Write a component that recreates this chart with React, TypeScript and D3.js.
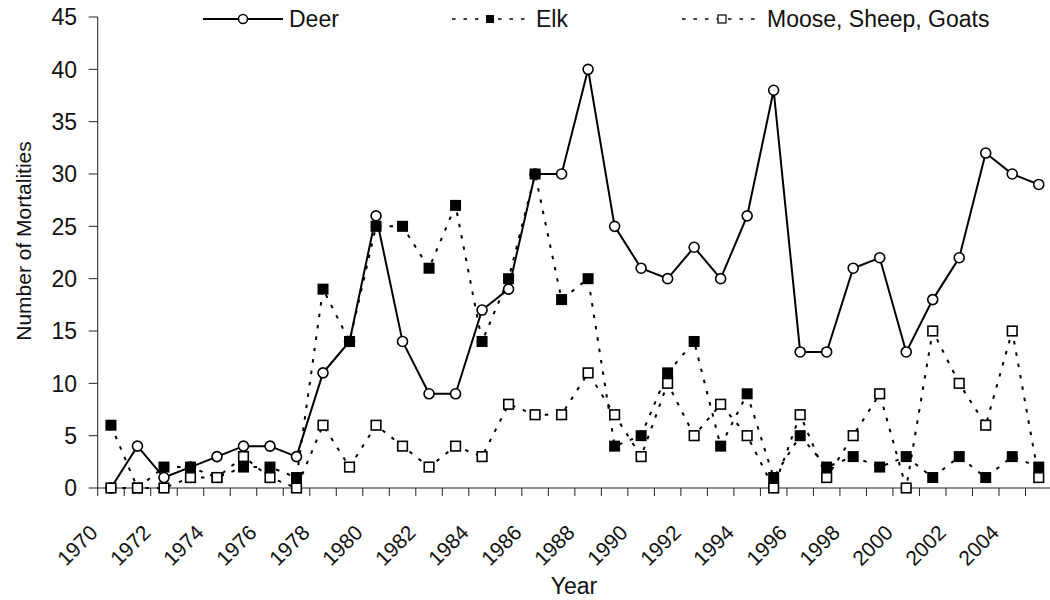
import * as d3 from "d3";

// years on the category axis
const years = [
  1970, 1971, 1972, 1973, 1974, 1975, 1976, 1977, 1978, 1979,
  1980, 1981, 1982, 1983, 1984, 1985, 1986, 1987, 1988, 1989,
  1990, 1991, 1992, 1993, 1994, 1995, 1996, 1997, 1998, 1999,
  2000, 2001, 2002, 2003, 2004, 2005,
];

const deer = [
  0, 4, 1, 2, 3, 4, 4, 3, 11, 14,
  26, 14, 9, 9, 17, 19, 30, 30, 40, 25,
  21, 20, 23, 20, 26, 38, 13, 13, 21, 22,
  13, 18, 22, 32, 30, 29,
];

const elk = [
  6, 0, 2, 2, 1, 2, 2, 1, 19, 14,
  25, 25, 21, 27, 14, 20, 30, 18, 20, 4,
  5, 11, 14, 4, 9, 1, 5, 2, 3, 2,
  3, 1, 3, 1, 3, 2,
];

const moose = [
  0, 0, 0, 1, 1, 3, 1, 0, 6, 2,
  6, 4, 2, 4, 3, 8, 7, 7, 11, 7,
  3, 10, 5, 8, 5, 0, 7, 1, 5, 9,
  0, 15, 10, 6, 15, 1,
];

const tickLabels = [
  "1970", "1972", "1974", "1976", "1978", "1980", "1982", "1984", "1986",
  "1988", "1990", "1992", "1994", "1996", "1998", "2000", "2002", "2004",
];

const yTicks = [0, 5, 10, 15, 20, 25, 30, 35, 40, 45];

const FONT = "'Liberation Sans', Arial, sans-serif";

const App = () => {
  const width = 1050;
  const height = 600;
  const left = 97.7;
  const right = 1052;
  const top = 17;
  const bottom = 488;

  const x = d3.scaleBand<number>().domain(years).range([left, right]).padding(0);
  const y = d3.scaleLinear().domain([0, 45]).range([bottom, top]);
  const cx = (i: number) => (x(years[i]) as number) + x.bandwidth() / 2;

  const line = d3
    .line<number>()
    .x((_, i) => cx(i))
    .y((d) => y(d));

  const dotted = { strokeDasharray: "3.5 8", strokeWidth: 2 };

  const boundaries = years.map((yr) => x(yr) as number).concat([right]);

  return (
    <svg
      width={width}
      height={height}
      style={{ position: "absolute", left: 0, top: 0, background: "white" }}
      fontFamily={FONT}
    >
      {/* y axis */}
      <line x1={left} x2={left} y1={top} y2={bottom} stroke="#222" strokeWidth={1} />
      {yTicks.map((t) => (
        <g key={t}>
          <line x1={left - 9} x2={left} y1={y(t)} y2={y(t)} stroke="#222" />
          <text x={77} y={y(t)} dy="0.36em" textAnchor="end" fontSize={23} fill="#111">
            {t}
          </text>
        </g>
      ))}
      <text
        transform={`translate(31, 241) rotate(-90)`}
        textAnchor="middle"
        fontSize={21}
        fill="#111"
      >
        Number of Mortalities
      </text>

      {/* x axis */}
      <line x1={left} x2={right} y1={bottom} y2={bottom} stroke="#222" />
      {boundaries.map((b, i) => (
        <line key={i} x1={b} x2={b} y1={bottom} y2={bottom + 8} stroke="#222" />
      ))}
      {tickLabels.map((lab) => {
        const i = years.indexOf(+lab);
        const ax = cx(i) - 12;
        const ay = bottom + 46;
        return (
          <text
            key={lab}
            transform={`translate(${ax}, ${ay}) rotate(-45)`}
            textAnchor="end"
            fontSize={21}
            fill="#111"
          >
            {lab}
          </text>
        );
      })}
      <text x={574} y={594} textAnchor="middle" fontSize={23} fill="#111">
        Year
      </text>

      {/* lines */}
      <path d={line(deer) ?? ""} fill="none" stroke="#000" strokeWidth={2} />
      <path d={line(elk) ?? ""} fill="none" stroke="#000" {...dotted} />
      <path d={line(moose) ?? ""} fill="none" stroke="#000" {...dotted} />

      {/* markers */}
      {deer.map((d, i) => (
        <circle key={"d" + i} cx={cx(i)} cy={y(d)} r={5} fill="white" stroke="#000" strokeWidth={1.6} />
      ))}
      {elk.map((d, i) => (
        <rect key={"e" + i} x={cx(i) - 5.5} y={y(d) - 5.5} width={11} height={11} fill="#000" />
      ))}
      {moose.map((d, i) => (
        <rect
          key={"m" + i}
          x={cx(i) - 4.8}
          y={y(d) - 4.8}
          width={9.6}
          height={9.6}
          fill="white"
          stroke="#000"
          strokeWidth={1.6}
        />
      ))}

      {/* legend */}
      <g fontSize={23} fill="#111">
        <line x1={203} x2={283} y1={19} y2={19} stroke="#000" strokeWidth={2} />
        <circle cx={243} cy={19} r={4.5} fill="white" stroke="#000" strokeWidth={1.5} />
        <text x={289} y={19} dy="0.36em">Deer</text>

        <line x1={452} x2={528} y1={19} y2={19} stroke="#000" strokeWidth={1.5} strokeDasharray="3.5 8" />
        <rect x={486} y={15} width={8} height={8} fill="#000" />
        <text x={536} y={19} dy="0.36em">Elk</text>

        <line x1={682} x2={760} y1={19} y2={19} stroke="#000" strokeWidth={1.5} strokeDasharray="3.5 8" />
        <rect x={718} y={15} width={8} height={8} fill="white" stroke="#000" strokeWidth={1.2} />
        <text x={767} y={19} dy="0.36em">Moose, Sheep, Goats</text>
      </g>
    </svg>
  );
};

export default App;
